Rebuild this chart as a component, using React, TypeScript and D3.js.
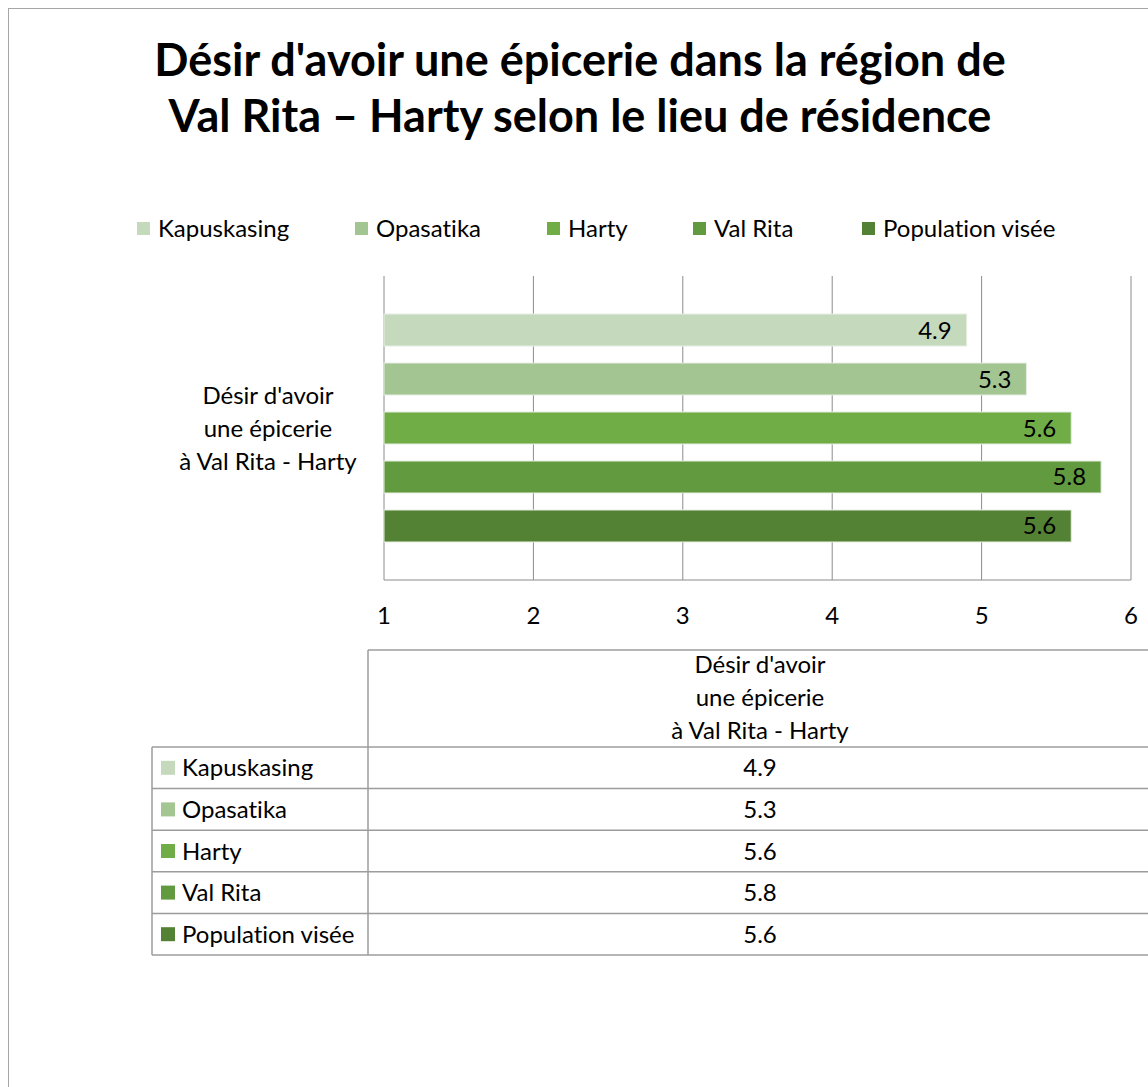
import React from "react";
import * as d3 from "d3";

const titleLines = ["Désir d'avoir une épicerie dans la région de", "Val Rita – Harty selon le lieu de résidence"];
const categoryLines = ["Désir d'avoir", "une épicerie", "à Val Rita - Harty"];
const series = ["Kapuskasing", "Opasatika", "Harty", "Val Rita", "Population visée"];
const values = [4.9, 5.3, 5.6, 5.8, 5.6];
const colors = ["#C5D9BD", "#A3C592", "#70AD47", "#629A3F", "#548235"];
const ticks = [1, 2, 3, 4, 5, 6];

const FONT = "Lato, 'Open Sans', sans-serif";
const FS = 24;

export default function App() {
  const x = d3.scaleLinear().domain([1, 6]).range([384, 1131]);
  const y = d3.scaleBand<string>().domain(series).range([276, 580]).paddingInner(0.347).paddingOuter(0.776);
  const legendX = [137, 355, 547, 693, 862];
  const tableRowY = d3.range(series.length + 1).map((i) => 747 + i * 41.6);
  const colLeft = 152, colMid = 368, colRight = 1152;
  const colCenter = (colMid + colRight) / 2;
  const grid = "#8C8C8C";
  const tline = "#9C9C9C";

  return (
    <svg width={1148} height={1087} style={{ position: "absolute", left: 0, top: 0, fontVariantLigatures: "none" }} fontFamily={FONT}>
      <rect x={0} y={0} width={1148} height={1087} fill="#fff" />
      <rect x={8.5} y={8.5} width={1200} height={1200} fill="none" stroke="#A6A6A6" strokeWidth={1} />
      {titleLines.map((t, i) => (
        <text key={i} x={580} y={76 + i * 56} textAnchor="middle" fontSize={45} fontWeight="bold" fill="#000">{t}</text>
      ))}
      {series.map((s, i) => (
        <g key={s}>
          <rect x={legendX[i]} y={222} width={13} height={13} fill={colors[i]} />
          <text x={legendX[i] + 21} y={237} fontSize={FS} fill="#000">{s}</text>
        </g>
      ))}
      {ticks.map((t) => (
        <line key={t} x1={x(t)} x2={x(t)} y1={276} y2={580} stroke={grid} strokeWidth={1} />
      ))}
      <line x1={x(1)} x2={x(6)} y1={580} y2={580} stroke={grid} strokeWidth={1} />
      {series.map((s, i) => (
        <g key={s}>
          <rect x={x(1)} y={y(s)!} width={x(values[i]) - x(1)} height={y.bandwidth()} fill={colors[i]} stroke="#E6EEE2" strokeWidth={1} />
          <text x={x(values[i]) - 15} y={y(s)! + y.bandwidth() / 2 + 8.5} textAnchor="end" fontSize={FS} fill="#000">{values[i].toFixed(1)}</text>
        </g>
      ))}
      {categoryLines.map((t, i) => (
        <text key={i} x={268} y={404 + i * 33} textAnchor="middle" fontSize={FS} fill="#000">{t}</text>
      ))}
      {ticks.map((t) => (
        <text key={t} x={x(t)} y={624} textAnchor="middle" fontSize={FS} fill="#000">{t}</text>
      ))}
      {/* data table */}
      <line x1={colMid} x2={colRight} y1={650} y2={650} stroke={tline} strokeWidth={1.5} />
      <line x1={colMid} x2={colMid} y1={650} y2={tableRowY[tableRowY.length - 1]} stroke={tline} strokeWidth={1.5} />
      <line x1={colLeft} x2={colLeft} y1={tableRowY[0]} y2={tableRowY[tableRowY.length - 1]} stroke={tline} strokeWidth={1.5} />
      {tableRowY.map((ry, i) => (
        <line key={i} x1={colLeft} x2={colRight} y1={ry} y2={ry} stroke={tline} strokeWidth={1.5} />
      ))}
      {categoryLines.map((t, i) => (
        <text key={i} x={colCenter} y={673 + i * 33} textAnchor="middle" fontSize={FS} fill="#000">{t}</text>
      ))}
      {series.map((s, i) => {
        const cy = (tableRowY[i] + tableRowY[i + 1]) / 2;
        return (
          <g key={s}>
            <rect x={161} y={cy - 7} width={14} height={14} fill={colors[i]} />
            <text x={182} y={cy + 8.5} fontSize={FS} fill="#000">{s}</text>
            <text x={colCenter} y={cy + 8.5} textAnchor="middle" fontSize={FS} fill="#000">{values[i].toFixed(1)}</text>
          </g>
        );
      })}
    </svg>
  );
}
